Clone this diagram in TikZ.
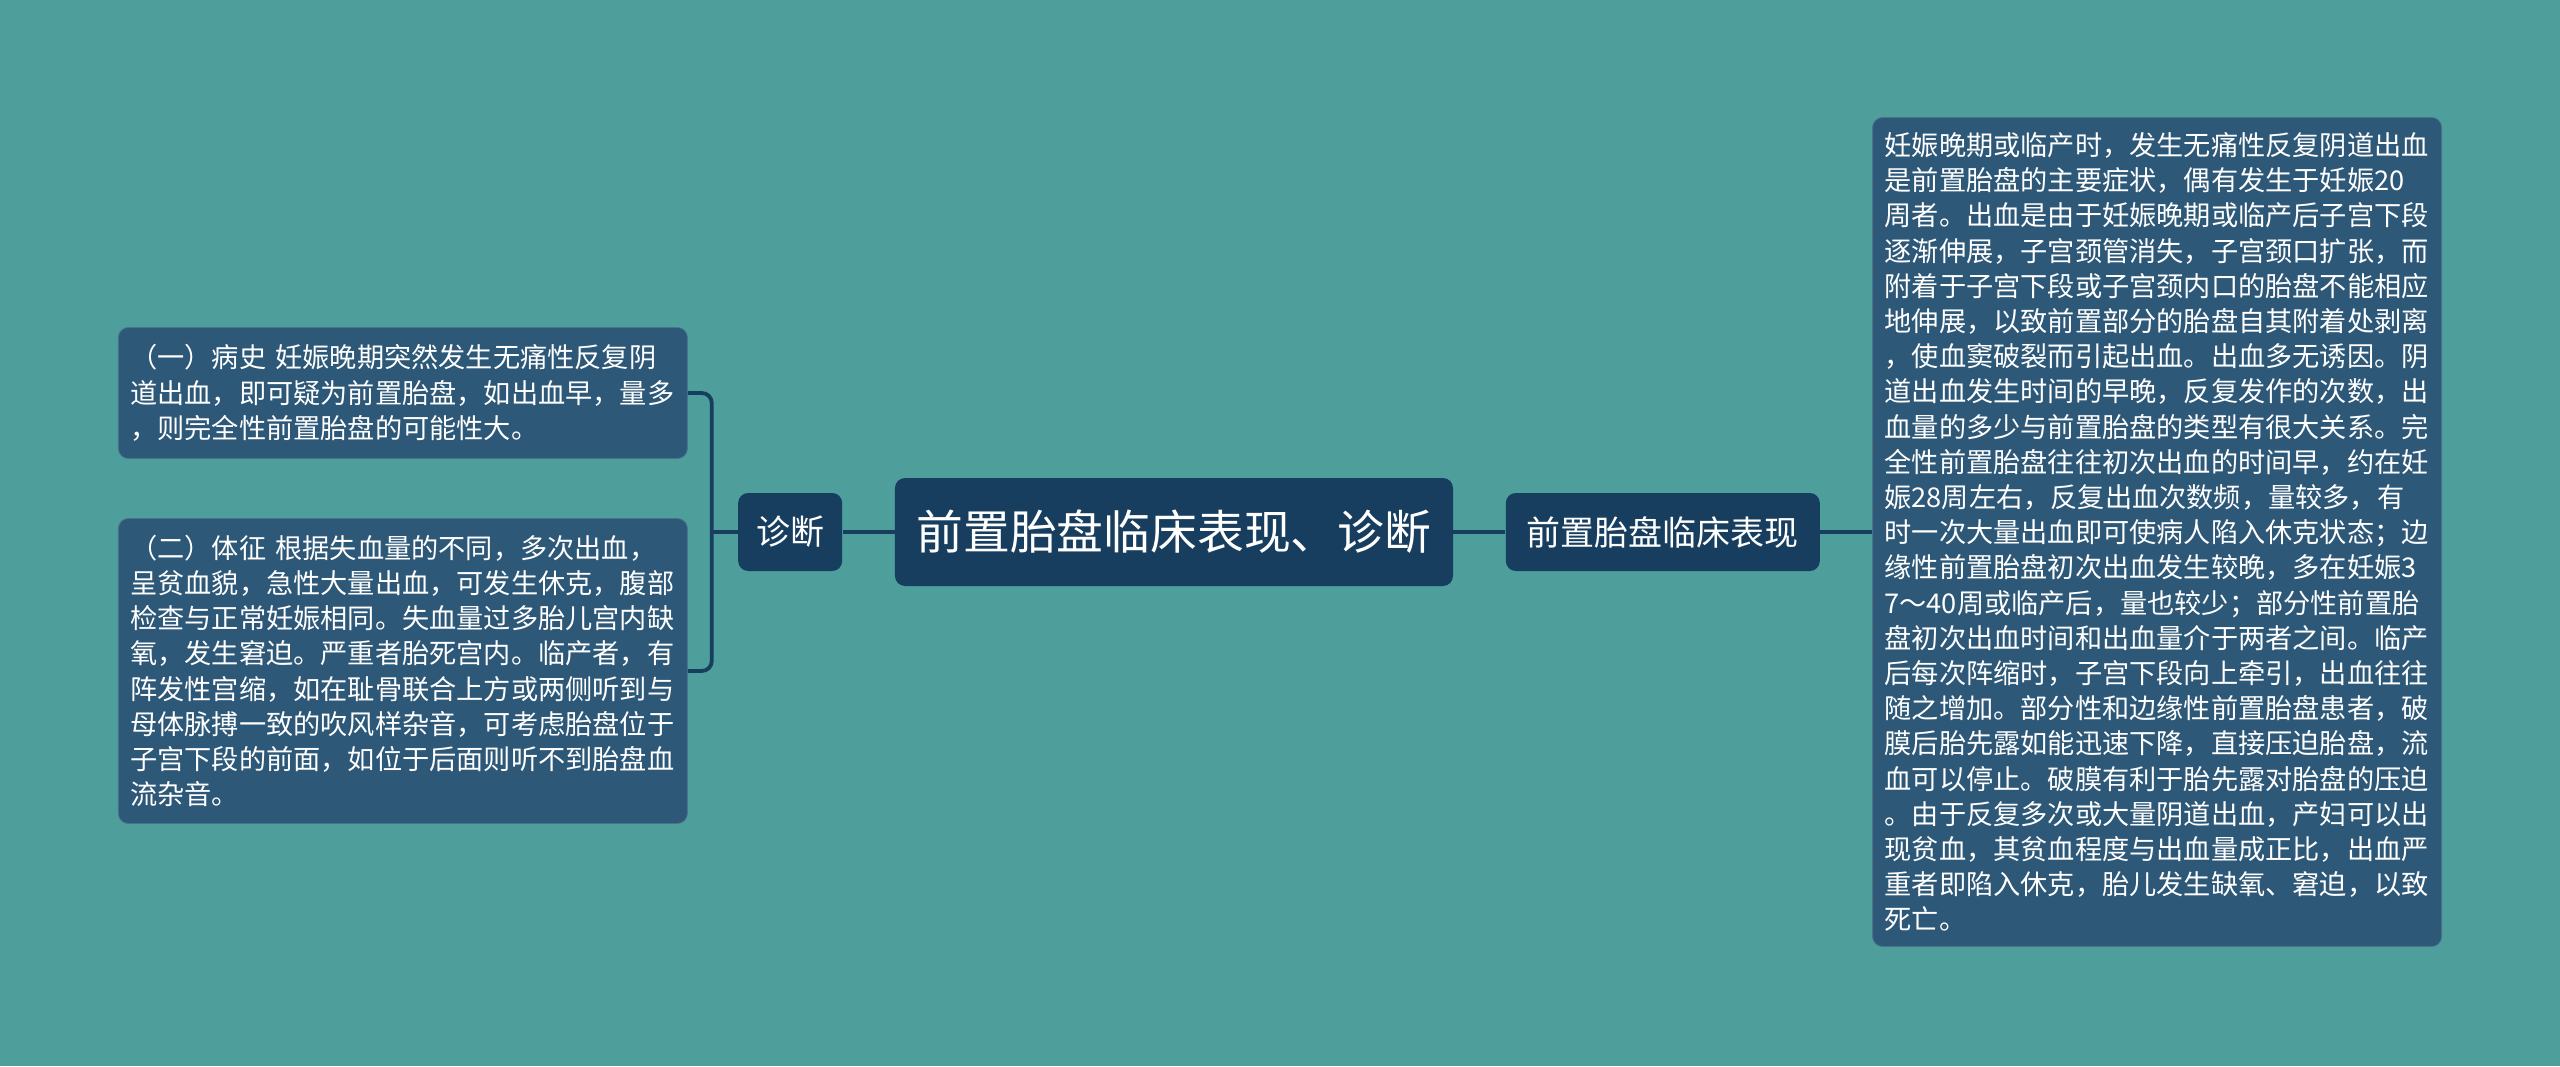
\documentclass[tikz,border=0pt]{standalone}
\usepackage{fontspec}
\setmainfont{Noto Sans CJK SC}
\usetikzlibrary{positioning}
\definecolor{bgteal}{HTML}{4E9E9C}
\definecolor{navy}{HTML}{173E5E}
\definecolor{slate}{HTML}{2D5878}
\tikzstyle{topic} = [
  fill=navy,
  rounded corners=5pt,
  text=white,
  align=center,
  inner sep=0pt,
  minimum width=279pt,
  minimum height=54pt,
  font=\fontsize{23.4pt}{28pt}\selectfont,
]
\tikzstyle{branch} = [
  fill=navy,
  rounded corners=5pt,
  text=white,
  align=center,
  inner sep=0pt,
  minimum height=39pt,
  font=\fontsize{17pt}{20pt}\selectfont,
]
\tikzstyle{leaf} = [
  fill=slate,
  draw=slate!85!white,
  rounded corners=5pt,
  text=white,
  align=left,
  text width=272.5pt,
  inner xsep=6pt,
  inner ysep=0pt,
  font=\fontsize{13.6pt}{17.6pt}\selectfont,
]
\tikzstyle{link} = [
  draw=navy,
  line width=1.9pt,
]

\begin{document}
\begin{tikzpicture}[
    auto,
  ]
  \fill[bgteal] (-587pt,-267pt) rectangle (693pt,266pt);
  \useasboundingbox (-587pt,-267pt) rectangle (693pt,266pt);
  \node[topic]
    (title) at (0,0) {前置胎盘临床表现、诊断};
  \node[
    branch,
    minimum width=52pt,
    left=26pt of title
  ](diag){诊断};
  \node[
    branch,
    minimum width=157pt,
    right=26pt of title
  ](clinic){前置胎盘临床表现};
  \node[
    leaf,
    minimum height=414.5pt,
    right=26pt of clinic
  ](detail){妊娠晚期或临产时，发生无痛性反复阴道出血\\
    是前置胎盘的主要症状，偶有发生于妊娠20\\
    周者。出血是由于妊娠晚期或临产后子宫下段\\
    逐渐伸展，子宫颈管消失，子宫颈口扩张，而\\
    附着于子宫下段或子宫颈内口的胎盘不能相应\\
    地伸展，以致前置部分的胎盘自其附着处剥离\\
    ，使血窦破裂而引起出血。出血多无诱因。阴\\
    道出血发生时间的早晚，反复发作的次数，出\\
    血量的多少与前置胎盘的类型有很大关系。完\\
    全性前置胎盘往往初次出血的时间早，约在妊\\
    娠28周左右，反复出血次数频，量较多，有\\
    时一次大量出血即可使病人陷入休克状态；边\\
    缘性前置胎盘初次出血发生较晚，多在妊娠3\\
    7～40周或临产后，量也较少；部分性前置胎\\
    盘初次出血时间和出血量介于两者之间。临产\\
    后每次阵缩时，子宫下段向上牵引，出血往往\\
    随之增加。部分性和边缘性前置胎盘患者，破\\
    膜后胎先露如能迅速下降，直接压迫胎盘，流\\
    血可以停止。破膜有利于胎先露对胎盘的压迫\\
    。由于反复多次或大量阴道出血，产妇可以出\\
    现贫血，其贫血程度与出血量成正比，出血严\\
    重者即陷入休克，胎儿发生缺氧、窘迫，以致\\
    死亡。};
  \node[
    leaf,
    minimum height=65.5pt,
    left=25pt of diag,
    yshift=69.5pt
  ](history){（一）病史 妊娠晚期突然发生无痛性反复阴\\
    道出血，即可疑为前置胎盘，如出血早，量多\\
    ，则完全性前置胎盘的可能性大。};
  \node[
    leaf,
    minimum height=152.5pt,
    left=25pt of diag,
    yshift=-69.5pt
  ](signs){（二）体征 根据失血量的不同，多次出血，\\
    呈贫血貌，急性大量出血，可发生休克，腹部\\
    检查与正常妊娠相同。失血量过多胎儿宫内缺\\
    氧，发生窘迫。严重者胎死宫内。临产者，有\\
    阵发性宫缩，如在耻骨联合上方或两侧听到与\\
    母体脉搏一致的吹风样杂音，可考虑胎盘位于\\
    子宫下段的前面，如位于后面则听不到胎盘血\\
    流杂音。};
  \coordinate[left=13pt of diag] (fork);
  \path [link] (title) edge (diag);
  \path [link] (title) edge (clinic);
  \path [link] (clinic) edge (detail);
  \path [link] (diag) edge (fork);
  \draw [link, rounded corners=5pt] (history) -| (fork) |- (signs);
\end{tikzpicture}
\end{document}
